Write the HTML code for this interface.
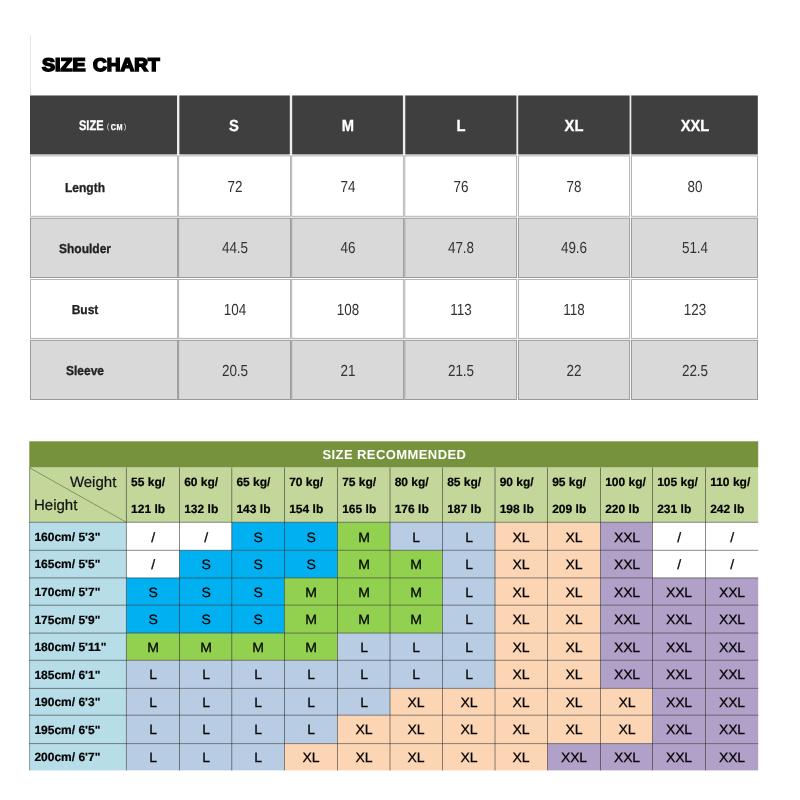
<!DOCTYPE html>
<html><head><meta charset="utf-8"><title>Size Chart</title>
<style>
html,body{margin:0;padding:0;background:#fff;}
body{will-change:transform;text-rendering:geometricPrecision;width:800px;height:800px;position:relative;overflow:hidden;font-family:"Liberation Sans",sans-serif;color:#000;}
.a{position:absolute;}
.t{position:absolute;white-space:nowrap;line-height:1;}
.tt{font-size:18.3px;font-weight:bold;-webkit-text-stroke:1.6px #000;}
.hl{color:#fff;font-weight:bold;-webkit-text-stroke:0.3px #fff;}
.p{font-weight:normal;font-size:7.5px;position:relative;top:-0.9px;-webkit-text-stroke:0;margin:0 1.2px;}
.lb{color:#222;font-weight:bold;font-size:13px;-webkit-text-stroke:0.3px #222;}
.v{color:#333;font-size:16px;}
.k{font-weight:bold;font-size:12px;color:#000;-webkit-text-stroke:0.2px #000;}
.z{font-size:13.5px;color:#000;-webkit-text-stroke:0.25px #000;letter-spacing:-0.2px;}
.wh{font-size:15px;color:#111;-webkit-text-stroke:0.2px #111;}
</style></head><body>
<div class="a" style="left:30px;top:35px;width:1px;height:60px;background:#e4e4e4"></div>
<svg class="a" style="left:0;top:0" width="800" height="800">
<rect x="30" y="95.5" width="727.8" height="59" fill="#ececec"/>
<rect x="30" y="95.5" width="147.00" height="58.9" fill="#3f3f3f"/>
<rect x="179.4" y="95.5" width="110.40" height="58.9" fill="#3f3f3f"/>
<rect x="292.2" y="95.5" width="110.70" height="58.9" fill="#3f3f3f"/>
<rect x="405.3" y="95.5" width="111.10" height="58.9" fill="#3f3f3f"/>
<rect x="518.2" y="95.5" width="111.40" height="58.9" fill="#3f3f3f"/>
<rect x="631.3" y="95.5" width="126.50" height="58.9" fill="#3f3f3f"/>
<rect x="30.50" y="155.90" width="147.10" height="60.40" fill="#ffffff" stroke="#b4b4b4" stroke-width="1"/>
<rect x="178.60" y="155.90" width="111.90" height="60.40" fill="#ffffff" stroke="#b4b4b4" stroke-width="1"/>
<rect x="291.70" y="155.90" width="111.90" height="60.40" fill="#ffffff" stroke="#b4b4b4" stroke-width="1"/>
<rect x="404.80" y="155.90" width="111.80" height="60.40" fill="#ffffff" stroke="#b4b4b4" stroke-width="1"/>
<rect x="518.50" y="155.90" width="111.10" height="60.40" fill="#ffffff" stroke="#b4b4b4" stroke-width="1"/>
<rect x="631.50" y="155.90" width="126.00" height="60.40" fill="#ffffff" stroke="#b4b4b4" stroke-width="1"/>
<rect x="30.50" y="218.20" width="147.10" height="59.30" fill="#d9d9d9" stroke="#9a9a9a" stroke-width="1"/>
<rect x="178.60" y="218.20" width="111.90" height="59.30" fill="#d9d9d9" stroke="#9a9a9a" stroke-width="1"/>
<rect x="291.70" y="218.20" width="111.90" height="59.30" fill="#d9d9d9" stroke="#9a9a9a" stroke-width="1"/>
<rect x="404.80" y="218.20" width="111.80" height="59.30" fill="#d9d9d9" stroke="#9a9a9a" stroke-width="1"/>
<rect x="518.50" y="218.20" width="111.10" height="59.30" fill="#d9d9d9" stroke="#9a9a9a" stroke-width="1"/>
<rect x="631.50" y="218.20" width="126.00" height="59.30" fill="#d9d9d9" stroke="#9a9a9a" stroke-width="1"/>
<rect x="30.50" y="279.50" width="147.10" height="58.90" fill="#ffffff" stroke="#b4b4b4" stroke-width="1"/>
<rect x="178.60" y="279.50" width="111.90" height="58.90" fill="#ffffff" stroke="#b4b4b4" stroke-width="1"/>
<rect x="291.70" y="279.50" width="111.90" height="58.90" fill="#ffffff" stroke="#b4b4b4" stroke-width="1"/>
<rect x="404.80" y="279.50" width="111.80" height="58.90" fill="#ffffff" stroke="#b4b4b4" stroke-width="1"/>
<rect x="518.50" y="279.50" width="111.10" height="58.90" fill="#ffffff" stroke="#b4b4b4" stroke-width="1"/>
<rect x="631.50" y="279.50" width="126.00" height="58.90" fill="#ffffff" stroke="#b4b4b4" stroke-width="1"/>
<rect x="30.50" y="340.30" width="147.10" height="59.20" fill="#d9d9d9" stroke="#9a9a9a" stroke-width="1"/>
<rect x="178.60" y="340.30" width="111.90" height="59.20" fill="#d9d9d9" stroke="#9a9a9a" stroke-width="1"/>
<rect x="291.70" y="340.30" width="111.90" height="59.20" fill="#d9d9d9" stroke="#9a9a9a" stroke-width="1"/>
<rect x="404.80" y="340.30" width="111.80" height="59.20" fill="#d9d9d9" stroke="#9a9a9a" stroke-width="1"/>
<rect x="518.50" y="340.30" width="111.10" height="59.20" fill="#d9d9d9" stroke="#9a9a9a" stroke-width="1"/>
<rect x="631.50" y="340.30" width="126.00" height="59.20" fill="#d9d9d9" stroke="#9a9a9a" stroke-width="1"/>
</svg>
<svg class="a" style="left:0;top:0" width="800" height="800">
<rect x="29.3" y="441.3" width="728.90" height="26.30" fill="#76923c"/>
<rect x="29.3" y="467.6" width="728.90" height="54.70" fill="#c4d79b"/>
<rect x="29.3" y="522.3" width="97.10" height="248.10" fill="#b7dee8"/>
<rect x="126.40" y="522.30" width="105.35" height="28.00" fill="#ffffff"/>
<rect x="231.75" y="522.30" width="105.75" height="28.00" fill="#00b0f0"/>
<rect x="337.50" y="522.30" width="52.50" height="28.00" fill="#92d050"/>
<rect x="390.00" y="522.30" width="105.00" height="28.00" fill="#b8cce4"/>
<rect x="495.00" y="522.30" width="105.50" height="28.00" fill="#fcd5b4"/>
<rect x="600.50" y="522.30" width="52.00" height="28.00" fill="#b1a0c7"/>
<rect x="652.50" y="522.30" width="105.70" height="28.00" fill="#ffffff"/>
<rect x="126.40" y="550.30" width="53.10" height="27.60" fill="#ffffff"/>
<rect x="179.50" y="550.30" width="158.00" height="27.60" fill="#00b0f0"/>
<rect x="337.50" y="550.30" width="105.00" height="27.60" fill="#92d050"/>
<rect x="442.50" y="550.30" width="52.50" height="27.60" fill="#b8cce4"/>
<rect x="495.00" y="550.30" width="105.50" height="27.60" fill="#fcd5b4"/>
<rect x="600.50" y="550.30" width="52.00" height="27.60" fill="#b1a0c7"/>
<rect x="652.50" y="550.30" width="105.70" height="27.60" fill="#ffffff"/>
<rect x="126.40" y="577.90" width="158.10" height="27.30" fill="#00b0f0"/>
<rect x="284.50" y="577.90" width="158.00" height="27.30" fill="#92d050"/>
<rect x="442.50" y="577.90" width="52.50" height="27.30" fill="#b8cce4"/>
<rect x="495.00" y="577.90" width="105.50" height="27.30" fill="#fcd5b4"/>
<rect x="600.50" y="577.90" width="157.70" height="27.30" fill="#b1a0c7"/>
<rect x="126.40" y="605.20" width="158.10" height="27.90" fill="#00b0f0"/>
<rect x="284.50" y="605.20" width="158.00" height="27.90" fill="#92d050"/>
<rect x="442.50" y="605.20" width="52.50" height="27.90" fill="#b8cce4"/>
<rect x="495.00" y="605.20" width="105.50" height="27.90" fill="#fcd5b4"/>
<rect x="600.50" y="605.20" width="157.70" height="27.90" fill="#b1a0c7"/>
<rect x="126.40" y="633.10" width="211.10" height="27.20" fill="#92d050"/>
<rect x="337.50" y="633.10" width="157.50" height="27.20" fill="#b8cce4"/>
<rect x="495.00" y="633.10" width="105.50" height="27.20" fill="#fcd5b4"/>
<rect x="600.50" y="633.10" width="157.70" height="27.20" fill="#b1a0c7"/>
<rect x="126.40" y="660.30" width="368.60" height="28.10" fill="#b8cce4"/>
<rect x="495.00" y="660.30" width="105.50" height="28.10" fill="#fcd5b4"/>
<rect x="600.50" y="660.30" width="157.70" height="28.10" fill="#b1a0c7"/>
<rect x="126.40" y="688.40" width="263.60" height="26.80" fill="#b8cce4"/>
<rect x="390.00" y="688.40" width="262.50" height="26.80" fill="#fcd5b4"/>
<rect x="652.50" y="688.40" width="105.70" height="26.80" fill="#b1a0c7"/>
<rect x="126.40" y="715.20" width="211.10" height="28.40" fill="#b8cce4"/>
<rect x="337.50" y="715.20" width="315.00" height="28.40" fill="#fcd5b4"/>
<rect x="652.50" y="715.20" width="105.70" height="28.40" fill="#b1a0c7"/>
<rect x="126.40" y="743.60" width="158.10" height="26.80" fill="#b8cce4"/>
<rect x="284.50" y="743.60" width="263.00" height="26.80" fill="#fcd5b4"/>
<rect x="547.50" y="743.60" width="210.70" height="26.80" fill="#b1a0c7"/>
<line x1="29.3" y1="522.3" x2="758.2" y2="522.3" stroke="#202020" stroke-opacity="0.62" stroke-width="0.85"/>
<line x1="29.3" y1="550.3" x2="758.2" y2="550.3" stroke="#202020" stroke-opacity="0.62" stroke-width="0.85"/>
<line x1="29.3" y1="577.9" x2="758.2" y2="577.9" stroke="#202020" stroke-opacity="0.62" stroke-width="0.85"/>
<line x1="29.3" y1="605.2" x2="758.2" y2="605.2" stroke="#202020" stroke-opacity="0.62" stroke-width="0.85"/>
<line x1="29.3" y1="633.1" x2="758.2" y2="633.1" stroke="#202020" stroke-opacity="0.62" stroke-width="0.85"/>
<line x1="29.3" y1="660.3" x2="758.2" y2="660.3" stroke="#202020" stroke-opacity="0.62" stroke-width="0.85"/>
<line x1="29.3" y1="688.4" x2="758.2" y2="688.4" stroke="#202020" stroke-opacity="0.62" stroke-width="0.85"/>
<line x1="29.3" y1="715.2" x2="758.2" y2="715.2" stroke="#202020" stroke-opacity="0.62" stroke-width="0.85"/>
<line x1="29.3" y1="743.6" x2="758.2" y2="743.6" stroke="#202020" stroke-opacity="0.62" stroke-width="0.85"/>
<line x1="126.4" y1="467.6" x2="126.4" y2="770.4" stroke="#202020" stroke-opacity="0.62" stroke-width="0.85"/>
<line x1="179.5" y1="467.6" x2="179.5" y2="770.4" stroke="#202020" stroke-opacity="0.62" stroke-width="0.85"/>
<line x1="231.75" y1="467.6" x2="231.75" y2="770.4" stroke="#202020" stroke-opacity="0.62" stroke-width="0.85"/>
<line x1="284.5" y1="467.6" x2="284.5" y2="770.4" stroke="#202020" stroke-opacity="0.62" stroke-width="0.85"/>
<line x1="337.5" y1="467.6" x2="337.5" y2="770.4" stroke="#202020" stroke-opacity="0.62" stroke-width="0.85"/>
<line x1="390" y1="467.6" x2="390" y2="770.4" stroke="#202020" stroke-opacity="0.62" stroke-width="0.85"/>
<line x1="442.5" y1="467.6" x2="442.5" y2="770.4" stroke="#202020" stroke-opacity="0.62" stroke-width="0.85"/>
<line x1="495" y1="467.6" x2="495" y2="770.4" stroke="#202020" stroke-opacity="0.62" stroke-width="0.85"/>
<line x1="547.5" y1="467.6" x2="547.5" y2="770.4" stroke="#202020" stroke-opacity="0.62" stroke-width="0.85"/>
<line x1="600.5" y1="467.6" x2="600.5" y2="770.4" stroke="#202020" stroke-opacity="0.62" stroke-width="0.85"/>
<line x1="652.5" y1="467.6" x2="652.5" y2="770.4" stroke="#202020" stroke-opacity="0.62" stroke-width="0.85"/>
<line x1="705.5" y1="467.6" x2="705.5" y2="770.4" stroke="#202020" stroke-opacity="0.62" stroke-width="0.85"/>
<line x1="29.3" y1="467.6" x2="126.4" y2="522.3" stroke="#5e6e42" stroke-width="0.65"/>
<line x1="29.6" y1="467.6" x2="29.6" y2="770.4" stroke="#333" stroke-opacity="0.55" stroke-width="0.8"/>
</svg>
<div class="t tt" id="t1" style="top:56.21px;left:42.30px;transform-origin:0 50%;transform:scaleX(1.07);">SIZE</div>
<div class="t tt" id="t2" style="top:56.21px;left:93.00px;transform-origin:0 50%;transform:scaleX(1.04);">CHART</div>
<div class="t hl" id="hsize" style="top:119.00px;left:78.70px;transform-origin:0 50%;transform:scaleX(0.8);font-size:13.8px">SIZE</div>
<div class="t hl" id="hcm" style="top:123.30px;left:105.70px;transform-origin:0 50%;transform:scaleX(0.85);font-size:8.5px;letter-spacing:0.6px"><span class="p">(</span>CM<span class="p">)</span></div>
<div class="t hl" id="h1" style="top:119.00px;left:133.90px;width:200px;text-align:center;transform:scaleX(0.92);font-size:16px">S</div>
<div class="t hl" id="h2" style="top:119.00px;left:247.50px;width:200px;text-align:center;transform:scaleX(0.92);font-size:16px">M</div>
<div class="t hl" id="h3" style="top:119.00px;left:360.70px;width:200px;text-align:center;transform:scaleX(0.92);font-size:16px">L</div>
<div class="t hl" id="h4" style="top:119.00px;left:474.00px;width:200px;text-align:center;transform:scaleX(0.92);font-size:16px">XL</div>
<div class="t hl" id="h5" style="top:119.00px;left:594.50px;width:200px;text-align:center;transform:scaleX(0.92);font-size:16px">XXL</div>
<div class="t lb" id="l0" style="top:181.00px;left:-14.80px;width:200px;text-align:center;transform:scaleX(0.925);">Length</div>
<div class="t v" id="v0_1" style="top:180.00px;left:134.70px;width:200px;text-align:center;transform:scaleX(0.84);">72</div>
<div class="t v" id="v0_2" style="top:180.00px;left:247.80px;width:200px;text-align:center;transform:scaleX(0.84);">74</div>
<div class="t v" id="v0_3" style="top:180.00px;left:361.00px;width:200px;text-align:center;transform:scaleX(0.84);">76</div>
<div class="t v" id="v0_4" style="top:180.00px;left:474.20px;width:200px;text-align:center;transform:scaleX(0.84);">78</div>
<div class="t v" id="v0_5" style="top:180.00px;left:594.90px;width:200px;text-align:center;transform:scaleX(0.84);">80</div>
<div class="t lb" id="l1" style="top:242.00px;left:-14.80px;width:200px;text-align:center;transform:scaleX(0.925);">Shoulder</div>
<div class="t v" id="v1_1" style="top:241.00px;left:134.70px;width:200px;text-align:center;transform:scaleX(0.84);">44.5</div>
<div class="t v" id="v1_2" style="top:241.00px;left:247.80px;width:200px;text-align:center;transform:scaleX(0.84);">46</div>
<div class="t v" id="v1_3" style="top:241.00px;left:361.00px;width:200px;text-align:center;transform:scaleX(0.84);">47.8</div>
<div class="t v" id="v1_4" style="top:241.00px;left:474.20px;width:200px;text-align:center;transform:scaleX(0.84);">49.6</div>
<div class="t v" id="v1_5" style="top:241.00px;left:594.90px;width:200px;text-align:center;transform:scaleX(0.84);">51.4</div>
<div class="t lb" id="l2" style="top:303.00px;left:-14.80px;width:200px;text-align:center;transform:scaleX(0.925);">Bust</div>
<div class="t v" id="v2_1" style="top:303.00px;left:134.70px;width:200px;text-align:center;transform:scaleX(0.84);">104</div>
<div class="t v" id="v2_2" style="top:303.00px;left:247.80px;width:200px;text-align:center;transform:scaleX(0.84);">108</div>
<div class="t v" id="v2_3" style="top:303.00px;left:361.00px;width:200px;text-align:center;transform:scaleX(0.84);">113</div>
<div class="t v" id="v2_4" style="top:303.00px;left:474.20px;width:200px;text-align:center;transform:scaleX(0.84);">118</div>
<div class="t v" id="v2_5" style="top:303.00px;left:594.90px;width:200px;text-align:center;transform:scaleX(0.84);">123</div>
<div class="t lb" id="l3" style="top:364.00px;left:-14.80px;width:200px;text-align:center;transform:scaleX(0.925);">Sleeve</div>
<div class="t v" id="v3_1" style="top:364.00px;left:134.70px;width:200px;text-align:center;transform:scaleX(0.84);">20.5</div>
<div class="t v" id="v3_2" style="top:364.00px;left:247.80px;width:200px;text-align:center;transform:scaleX(0.84);">21</div>
<div class="t v" id="v3_3" style="top:364.00px;left:361.00px;width:200px;text-align:center;transform:scaleX(0.84);">21.5</div>
<div class="t v" id="v3_4" style="top:364.00px;left:474.20px;width:200px;text-align:center;transform:scaleX(0.84);">22</div>
<div class="t v" id="v3_5" style="top:364.00px;left:594.90px;width:200px;text-align:center;transform:scaleX(0.84);">22.5</div>
<div class="t hl" id="rec" style="top:448.41px;left:294.40px;width:200px;text-align:center;font-size:13px;letter-spacing:0.42px;-webkit-text-stroke:0">SIZE RECOMMENDED</div>
<div class="t wh" id="wt" style="top:475.41px;left:69.90px;">Weight</div>
<div class="t wh" id="ht" style="top:497.75px;left:34.00px;">Height</div>
<div class="t k" id="kg0" style="top:475.86px;left:131.10px;">55 kg/</div>
<div class="t k" id="lb0" style="top:502.91px;left:131.10px;">121 lb</div>
<div class="t k" id="kg1" style="top:475.86px;left:184.20px;">60 kg/</div>
<div class="t k" id="lb1" style="top:502.91px;left:184.20px;">132 lb</div>
<div class="t k" id="kg2" style="top:475.86px;left:236.45px;">65 kg/</div>
<div class="t k" id="lb2" style="top:502.91px;left:236.45px;">143 lb</div>
<div class="t k" id="kg3" style="top:475.86px;left:289.20px;">70 kg/</div>
<div class="t k" id="lb3" style="top:502.91px;left:289.20px;">154 lb</div>
<div class="t k" id="kg4" style="top:475.86px;left:342.20px;">75 kg/</div>
<div class="t k" id="lb4" style="top:502.91px;left:342.20px;">165 lb</div>
<div class="t k" id="kg5" style="top:475.86px;left:394.70px;">80 kg/</div>
<div class="t k" id="lb5" style="top:502.91px;left:394.70px;">176 lb</div>
<div class="t k" id="kg6" style="top:475.86px;left:447.20px;">85 kg/</div>
<div class="t k" id="lb6" style="top:502.91px;left:447.20px;">187 lb</div>
<div class="t k" id="kg7" style="top:475.86px;left:499.70px;">90 kg/</div>
<div class="t k" id="lb7" style="top:502.91px;left:499.70px;">198 lb</div>
<div class="t k" id="kg8" style="top:475.86px;left:552.20px;">95 kg/</div>
<div class="t k" id="lb8" style="top:502.91px;left:552.20px;">209 lb</div>
<div class="t k" id="kg9" style="top:475.86px;left:605.20px;">100 kg/</div>
<div class="t k" id="lb9" style="top:502.91px;left:605.20px;">220 lb</div>
<div class="t k" id="kg10" style="top:475.86px;left:657.20px;">105 kg/</div>
<div class="t k" id="lb10" style="top:502.91px;left:657.20px;">231 lb</div>
<div class="t k" id="kg11" style="top:475.86px;left:710.20px;">110 kg/</div>
<div class="t k" id="lb11" style="top:502.91px;left:710.20px;">242 lb</div>
<div class="t k" id="r0" style="top:530.61px;left:34.40px;">160cm/ 5'3&quot;</div>
<div class="t z" id="z0_0" style="top:531.00px;left:53.15px;width:200px;text-align:center;transform:scaleX(1.04);">/</div>
<div class="t z" id="z0_1" style="top:531.00px;left:105.82px;width:200px;text-align:center;transform:scaleX(1.04);">/</div>
<div class="t z" id="z0_2" style="top:531.00px;left:158.32px;width:200px;text-align:center;transform:scaleX(1.04);">S</div>
<div class="t z" id="z0_3" style="top:531.00px;left:211.20px;width:200px;text-align:center;transform:scaleX(1.04);">S</div>
<div class="t z" id="z0_4" style="top:531.00px;left:263.95px;width:200px;text-align:center;transform:scaleX(1.04);">M</div>
<div class="t z" id="z0_5" style="top:531.00px;left:316.45px;width:200px;text-align:center;transform:scaleX(1.04);">L</div>
<div class="t z" id="z0_6" style="top:531.00px;left:368.95px;width:200px;text-align:center;transform:scaleX(1.04);">L</div>
<div class="t z" id="z0_7" style="top:531.00px;left:421.45px;width:200px;text-align:center;transform:scaleX(1.04);">XL</div>
<div class="t z" id="z0_8" style="top:531.00px;left:474.20px;width:200px;text-align:center;transform:scaleX(1.04);">XL</div>
<div class="t z" id="z0_9" style="top:531.00px;left:526.70px;width:200px;text-align:center;transform:scaleX(1.04);">XXL</div>
<div class="t z" id="z0_10" style="top:531.00px;left:579.20px;width:200px;text-align:center;transform:scaleX(1.04);">/</div>
<div class="t z" id="z0_11" style="top:531.00px;left:632.05px;width:200px;text-align:center;transform:scaleX(1.04);">/</div>
<div class="t k" id="r1" style="top:558.41px;left:34.40px;">165cm/ 5'5&quot;</div>
<div class="t z" id="z1_0" style="top:557.80px;left:53.15px;width:200px;text-align:center;transform:scaleX(1.04);">/</div>
<div class="t z" id="z1_1" style="top:557.80px;left:105.82px;width:200px;text-align:center;transform:scaleX(1.04);">S</div>
<div class="t z" id="z1_2" style="top:557.80px;left:158.32px;width:200px;text-align:center;transform:scaleX(1.04);">S</div>
<div class="t z" id="z1_3" style="top:557.80px;left:211.20px;width:200px;text-align:center;transform:scaleX(1.04);">S</div>
<div class="t z" id="z1_4" style="top:557.80px;left:263.95px;width:200px;text-align:center;transform:scaleX(1.04);">M</div>
<div class="t z" id="z1_5" style="top:557.80px;left:316.45px;width:200px;text-align:center;transform:scaleX(1.04);">M</div>
<div class="t z" id="z1_6" style="top:557.80px;left:368.95px;width:200px;text-align:center;transform:scaleX(1.04);">L</div>
<div class="t z" id="z1_7" style="top:557.80px;left:421.45px;width:200px;text-align:center;transform:scaleX(1.04);">XL</div>
<div class="t z" id="z1_8" style="top:557.80px;left:474.20px;width:200px;text-align:center;transform:scaleX(1.04);">XL</div>
<div class="t z" id="z1_9" style="top:557.80px;left:526.70px;width:200px;text-align:center;transform:scaleX(1.04);">XXL</div>
<div class="t z" id="z1_10" style="top:557.80px;left:579.20px;width:200px;text-align:center;transform:scaleX(1.04);">/</div>
<div class="t z" id="z1_11" style="top:557.80px;left:632.05px;width:200px;text-align:center;transform:scaleX(1.04);">/</div>
<div class="t k" id="r2" style="top:585.61px;left:34.40px;">170cm/ 5'7&quot;</div>
<div class="t z" id="z2_0" style="top:585.80px;left:53.15px;width:200px;text-align:center;transform:scaleX(1.04);">S</div>
<div class="t z" id="z2_1" style="top:585.80px;left:105.82px;width:200px;text-align:center;transform:scaleX(1.04);">S</div>
<div class="t z" id="z2_2" style="top:585.80px;left:158.32px;width:200px;text-align:center;transform:scaleX(1.04);">S</div>
<div class="t z" id="z2_3" style="top:585.80px;left:211.20px;width:200px;text-align:center;transform:scaleX(1.04);">M</div>
<div class="t z" id="z2_4" style="top:585.80px;left:263.95px;width:200px;text-align:center;transform:scaleX(1.04);">M</div>
<div class="t z" id="z2_5" style="top:585.80px;left:316.45px;width:200px;text-align:center;transform:scaleX(1.04);">M</div>
<div class="t z" id="z2_6" style="top:585.80px;left:368.95px;width:200px;text-align:center;transform:scaleX(1.04);">L</div>
<div class="t z" id="z2_7" style="top:585.80px;left:421.45px;width:200px;text-align:center;transform:scaleX(1.04);">XL</div>
<div class="t z" id="z2_8" style="top:585.80px;left:474.20px;width:200px;text-align:center;transform:scaleX(1.04);">XL</div>
<div class="t z" id="z2_9" style="top:585.80px;left:526.70px;width:200px;text-align:center;transform:scaleX(1.04);">XXL</div>
<div class="t z" id="z2_10" style="top:585.80px;left:579.20px;width:200px;text-align:center;transform:scaleX(1.04);">XXL</div>
<div class="t z" id="z2_11" style="top:585.80px;left:632.05px;width:200px;text-align:center;transform:scaleX(1.04);">XXL</div>
<div class="t k" id="r3" style="top:613.75px;left:34.40px;">175cm/ 5'9&quot;</div>
<div class="t z" id="z3_0" style="top:612.80px;left:53.15px;width:200px;text-align:center;transform:scaleX(1.04);">S</div>
<div class="t z" id="z3_1" style="top:612.80px;left:105.82px;width:200px;text-align:center;transform:scaleX(1.04);">S</div>
<div class="t z" id="z3_2" style="top:612.80px;left:158.32px;width:200px;text-align:center;transform:scaleX(1.04);">S</div>
<div class="t z" id="z3_3" style="top:612.80px;left:211.20px;width:200px;text-align:center;transform:scaleX(1.04);">M</div>
<div class="t z" id="z3_4" style="top:612.80px;left:263.95px;width:200px;text-align:center;transform:scaleX(1.04);">M</div>
<div class="t z" id="z3_5" style="top:612.80px;left:316.45px;width:200px;text-align:center;transform:scaleX(1.04);">M</div>
<div class="t z" id="z3_6" style="top:612.80px;left:368.95px;width:200px;text-align:center;transform:scaleX(1.04);">L</div>
<div class="t z" id="z3_7" style="top:612.80px;left:421.45px;width:200px;text-align:center;transform:scaleX(1.04);">XL</div>
<div class="t z" id="z3_8" style="top:612.80px;left:474.20px;width:200px;text-align:center;transform:scaleX(1.04);">XL</div>
<div class="t z" id="z3_9" style="top:612.80px;left:526.70px;width:200px;text-align:center;transform:scaleX(1.04);">XXL</div>
<div class="t z" id="z3_10" style="top:612.80px;left:579.20px;width:200px;text-align:center;transform:scaleX(1.04);">XXL</div>
<div class="t z" id="z3_11" style="top:612.80px;left:632.05px;width:200px;text-align:center;transform:scaleX(1.04);">XXL</div>
<div class="t k" id="r4" style="top:641.25px;left:34.40px;">180cm/ 5'11&quot;</div>
<div class="t z" id="z4_0" style="top:640.61px;left:53.15px;width:200px;text-align:center;transform:scaleX(1.04);">M</div>
<div class="t z" id="z4_1" style="top:640.61px;left:105.82px;width:200px;text-align:center;transform:scaleX(1.04);">M</div>
<div class="t z" id="z4_2" style="top:640.61px;left:158.32px;width:200px;text-align:center;transform:scaleX(1.04);">M</div>
<div class="t z" id="z4_3" style="top:640.61px;left:211.20px;width:200px;text-align:center;transform:scaleX(1.04);">M</div>
<div class="t z" id="z4_4" style="top:640.61px;left:263.95px;width:200px;text-align:center;transform:scaleX(1.04);">L</div>
<div class="t z" id="z4_5" style="top:640.61px;left:316.45px;width:200px;text-align:center;transform:scaleX(1.04);">L</div>
<div class="t z" id="z4_6" style="top:640.61px;left:368.95px;width:200px;text-align:center;transform:scaleX(1.04);">L</div>
<div class="t z" id="z4_7" style="top:640.61px;left:421.45px;width:200px;text-align:center;transform:scaleX(1.04);">XL</div>
<div class="t z" id="z4_8" style="top:640.61px;left:474.20px;width:200px;text-align:center;transform:scaleX(1.04);">XL</div>
<div class="t z" id="z4_9" style="top:640.61px;left:526.70px;width:200px;text-align:center;transform:scaleX(1.04);">XXL</div>
<div class="t z" id="z4_10" style="top:640.61px;left:579.20px;width:200px;text-align:center;transform:scaleX(1.04);">XXL</div>
<div class="t z" id="z4_11" style="top:640.61px;left:632.05px;width:200px;text-align:center;transform:scaleX(1.04);">XXL</div>
<div class="t k" id="r5" style="top:668.75px;left:34.40px;">185cm/ 6'1&quot;</div>
<div class="t z" id="z5_0" style="top:668.00px;left:53.15px;width:200px;text-align:center;transform:scaleX(1.04);">L</div>
<div class="t z" id="z5_1" style="top:668.00px;left:105.82px;width:200px;text-align:center;transform:scaleX(1.04);">L</div>
<div class="t z" id="z5_2" style="top:668.00px;left:158.32px;width:200px;text-align:center;transform:scaleX(1.04);">L</div>
<div class="t z" id="z5_3" style="top:668.00px;left:211.20px;width:200px;text-align:center;transform:scaleX(1.04);">L</div>
<div class="t z" id="z5_4" style="top:668.00px;left:263.95px;width:200px;text-align:center;transform:scaleX(1.04);">L</div>
<div class="t z" id="z5_5" style="top:668.00px;left:316.45px;width:200px;text-align:center;transform:scaleX(1.04);">L</div>
<div class="t z" id="z5_6" style="top:668.00px;left:368.95px;width:200px;text-align:center;transform:scaleX(1.04);">L</div>
<div class="t z" id="z5_7" style="top:668.00px;left:421.45px;width:200px;text-align:center;transform:scaleX(1.04);">XL</div>
<div class="t z" id="z5_8" style="top:668.00px;left:474.20px;width:200px;text-align:center;transform:scaleX(1.04);">XL</div>
<div class="t z" id="z5_9" style="top:668.00px;left:526.70px;width:200px;text-align:center;transform:scaleX(1.04);">XXL</div>
<div class="t z" id="z5_10" style="top:668.00px;left:579.20px;width:200px;text-align:center;transform:scaleX(1.04);">XXL</div>
<div class="t z" id="z5_11" style="top:668.00px;left:632.05px;width:200px;text-align:center;transform:scaleX(1.04);">XXL</div>
<div class="t k" id="r6" style="top:695.91px;left:34.40px;">190cm/ 6'3&quot;</div>
<div class="t z" id="z6_0" style="top:695.71px;left:53.15px;width:200px;text-align:center;transform:scaleX(1.04);">L</div>
<div class="t z" id="z6_1" style="top:695.71px;left:105.82px;width:200px;text-align:center;transform:scaleX(1.04);">L</div>
<div class="t z" id="z6_2" style="top:695.71px;left:158.32px;width:200px;text-align:center;transform:scaleX(1.04);">L</div>
<div class="t z" id="z6_3" style="top:695.71px;left:211.20px;width:200px;text-align:center;transform:scaleX(1.04);">L</div>
<div class="t z" id="z6_4" style="top:695.71px;left:263.95px;width:200px;text-align:center;transform:scaleX(1.04);">L</div>
<div class="t z" id="z6_5" style="top:695.71px;left:316.45px;width:200px;text-align:center;transform:scaleX(1.04);">XL</div>
<div class="t z" id="z6_6" style="top:695.71px;left:368.95px;width:200px;text-align:center;transform:scaleX(1.04);">XL</div>
<div class="t z" id="z6_7" style="top:695.71px;left:421.45px;width:200px;text-align:center;transform:scaleX(1.04);">XL</div>
<div class="t z" id="z6_8" style="top:695.71px;left:474.20px;width:200px;text-align:center;transform:scaleX(1.04);">XL</div>
<div class="t z" id="z6_9" style="top:695.71px;left:526.70px;width:200px;text-align:center;transform:scaleX(1.04);">XL</div>
<div class="t z" id="z6_10" style="top:695.71px;left:579.20px;width:200px;text-align:center;transform:scaleX(1.04);">XXL</div>
<div class="t z" id="z6_11" style="top:695.71px;left:632.05px;width:200px;text-align:center;transform:scaleX(1.04);">XXL</div>
<div class="t k" id="r7" style="top:723.75px;left:34.40px;">195cm/ 6'5&quot;</div>
<div class="t z" id="z7_0" style="top:723.41px;left:53.15px;width:200px;text-align:center;transform:scaleX(1.04);">L</div>
<div class="t z" id="z7_1" style="top:723.41px;left:105.82px;width:200px;text-align:center;transform:scaleX(1.04);">L</div>
<div class="t z" id="z7_2" style="top:723.41px;left:158.32px;width:200px;text-align:center;transform:scaleX(1.04);">L</div>
<div class="t z" id="z7_3" style="top:723.41px;left:211.20px;width:200px;text-align:center;transform:scaleX(1.04);">L</div>
<div class="t z" id="z7_4" style="top:723.41px;left:263.95px;width:200px;text-align:center;transform:scaleX(1.04);">XL</div>
<div class="t z" id="z7_5" style="top:723.41px;left:316.45px;width:200px;text-align:center;transform:scaleX(1.04);">XL</div>
<div class="t z" id="z7_6" style="top:723.41px;left:368.95px;width:200px;text-align:center;transform:scaleX(1.04);">XL</div>
<div class="t z" id="z7_7" style="top:723.41px;left:421.45px;width:200px;text-align:center;transform:scaleX(1.04);">XL</div>
<div class="t z" id="z7_8" style="top:723.41px;left:474.20px;width:200px;text-align:center;transform:scaleX(1.04);">XL</div>
<div class="t z" id="z7_9" style="top:723.41px;left:526.70px;width:200px;text-align:center;transform:scaleX(1.04);">XL</div>
<div class="t z" id="z7_10" style="top:723.41px;left:579.20px;width:200px;text-align:center;transform:scaleX(1.04);">XXL</div>
<div class="t z" id="z7_11" style="top:723.41px;left:632.05px;width:200px;text-align:center;transform:scaleX(1.04);">XXL</div>
<div class="t k" id="r8" style="top:751.25px;left:34.40px;">200cm/ 6'7&quot;</div>
<div class="t z" id="z8_0" style="top:750.75px;left:53.15px;width:200px;text-align:center;transform:scaleX(1.04);">L</div>
<div class="t z" id="z8_1" style="top:750.75px;left:105.82px;width:200px;text-align:center;transform:scaleX(1.04);">L</div>
<div class="t z" id="z8_2" style="top:750.75px;left:158.32px;width:200px;text-align:center;transform:scaleX(1.04);">L</div>
<div class="t z" id="z8_3" style="top:750.75px;left:211.20px;width:200px;text-align:center;transform:scaleX(1.04);">XL</div>
<div class="t z" id="z8_4" style="top:750.75px;left:263.95px;width:200px;text-align:center;transform:scaleX(1.04);">XL</div>
<div class="t z" id="z8_5" style="top:750.75px;left:316.45px;width:200px;text-align:center;transform:scaleX(1.04);">XL</div>
<div class="t z" id="z8_6" style="top:750.75px;left:368.95px;width:200px;text-align:center;transform:scaleX(1.04);">XL</div>
<div class="t z" id="z8_7" style="top:750.75px;left:421.45px;width:200px;text-align:center;transform:scaleX(1.04);">XL</div>
<div class="t z" id="z8_8" style="top:750.75px;left:474.20px;width:200px;text-align:center;transform:scaleX(1.04);">XXL</div>
<div class="t z" id="z8_9" style="top:750.75px;left:526.70px;width:200px;text-align:center;transform:scaleX(1.04);">XXL</div>
<div class="t z" id="z8_10" style="top:750.75px;left:579.20px;width:200px;text-align:center;transform:scaleX(1.04);">XXL</div>
<div class="t z" id="z8_11" style="top:750.75px;left:632.05px;width:200px;text-align:center;transform:scaleX(1.04);">XXL</div>
</body></html>
